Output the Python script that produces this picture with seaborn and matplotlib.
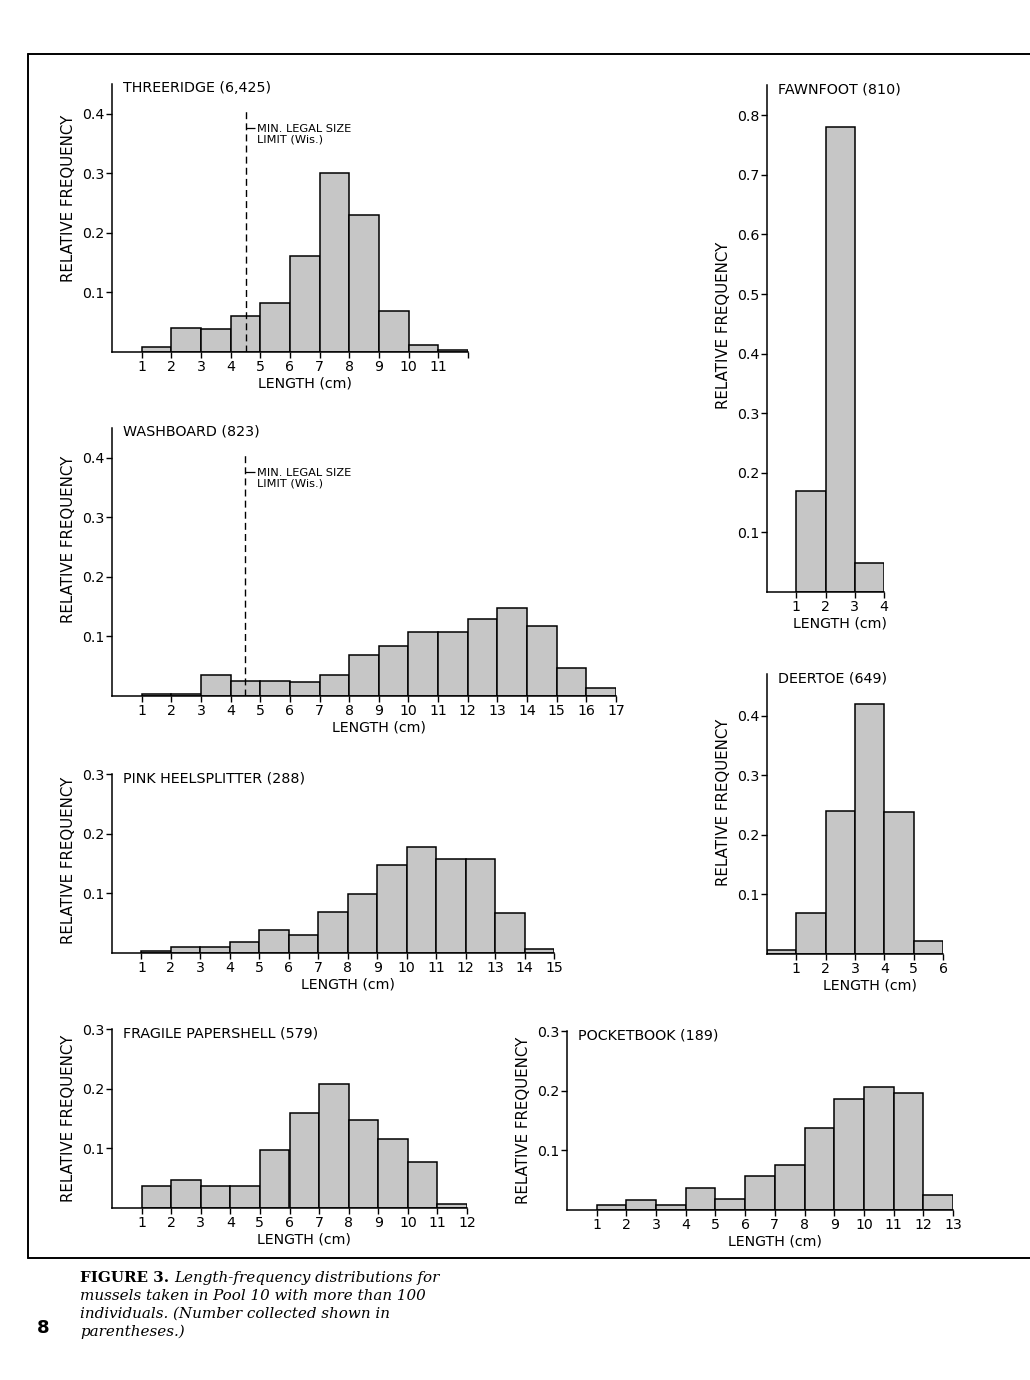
import pandas as pd
import matplotlib
matplotlib.use("Agg")
import matplotlib.pyplot as plt
import seaborn as sns
from matplotlib.lines import Line2D

# relative frequency per 1-cm length class
threeridge = [0.009, 0.040, 0.038, 0.061, 0.082, 0.161, 0.300, 0.230, 0.069, 0.011, 0.004]
washboard = [0.004, 0.004, 0.035, 0.026, 0.026, 0.0235, 0.036, 0.068, 0.084,
             0.108, 0.108, 0.129, 0.148, 0.118, 0.0475, 0.013]
pink_heelsplitter = [0.004, 0.0095, 0.0095, 0.0185, 0.038, 0.030, 0.068, 0.099,
                     0.148, 0.178, 0.158, 0.158, 0.067, 0.0073]
fawnfoot = [0.169, 0.781, 0.049]
deertoe = [0.0067, 0.069, 0.240, 0.419, 0.238, 0.022]
fragile_papershell = [0.0376, 0.047, 0.0365, 0.0365, 0.098, 0.160, 0.208, 0.148,
                      0.116, 0.078, 0.0067]
pocketbook = [0.0083, 0.017, 0.008, 0.037, 0.018, 0.057, 0.076, 0.137, 0.186,
              0.207, 0.196, 0.025]

# name, number collected, values, first length class, x max, y max, y ticks
panels = [
    ("THREERIDGE", "6,425", threeridge, 1, 12, 0.45, [0.1, 0.2, 0.3, 0.4]),
    ("WASHBOARD", "823", washboard, 1, 17, 0.45, [0.1, 0.2, 0.3, 0.4]),
    ("PINK HEELSPLITTER", "288", pink_heelsplitter, 1, 15, 0.30, [0.1, 0.2, 0.3]),
    ("FAWNFOOT", "810", fawnfoot, 1, 4, 0.85, [0.1, 0.2, 0.3, 0.4, 0.5, 0.6, 0.7, 0.8]),
    ("DEERTOE", "649", deertoe, 0, 6, 0.47, [0.1, 0.2, 0.3, 0.4]),
    ("FRAGILE PAPERSHELL", "579", fragile_papershell, 1, 12, 0.30, [0.1, 0.2, 0.3]),
    ("POCKETBOOK", "189", pocketbook, 1, 13, 0.30, [0.1, 0.2, 0.3]),
]
legal_limit = 4.5  # Wisconsin min. legal size, shown on threeridge + washboard
show_limit = {"THREERIDGE", "WASHBOARD"}

# axes placement in pixels: left, right, baseline; plus y-label centre (data units)
layout = {
    "THREERIDGE": (112, 468, 352, 0.258),
    "WASHBOARD": (112, 616, 696, 0.262),
    "PINK HEELSPLITTER": (112, 554, 953, 0.156),
    "FAWNFOOT": (767, 884, 592, 0.448),
    "DEERTOE": (767, 943, 954, 0.255),
    "FRAGILE PAPERSHELL": (112, 467, 1208, 0.150),
    "POCKETBOOK": (567, 953, 1210, 0.150),
}
PX_PER_UNIT_Y = 596  # 0.1 rel. freq = 59.6 px in every panel

W, H = 1030, 1380
FILL = "#c6c6c6"
FS = 10.2

sns.set_style("ticks")
plt.rcParams["font.family"] = ["DejaVu Sans"]
plt.rcParams["text.color"] = "black"
plt.rcParams["axes.labelcolor"] = "black"
plt.rcParams["axes.edgecolor"] = "black"
plt.rcParams["axes.linewidth"] = 1.1
plt.rcParams["xtick.major.width"] = 1.0
plt.rcParams["ytick.major.width"] = 1.0

fig = plt.figure(figsize=(W / 100, H / 100), dpi=100)
fig.patch.set_facecolor("white")

for name, count, values, start, xmax, ymax, yticks in panels:
    left, right, base, ylab_mid = layout[name]
    top = base - ymax * PX_PER_UNIT_Y
    ax = fig.add_axes([left / W, 1 - base / H, (right - left) / W, (base - top) / H])
    edges = list(range(start, start + len(values) + 1))
    df = pd.DataFrame({"length": [e + 0.5 for e in edges[:-1]], "freq": values})
    sns.histplot(data=df, x="length", weights="freq", bins=edges, ax=ax,
                 color=FILL, edgecolor="black", linewidth=1.1, alpha=1)
    ax.set_xlim(0, xmax)
    ax.set_ylim(0, ymax)
    sns.despine(ax=ax)
    ax.set_xticks(range(1, xmax + 1))
    labels = [str(i) for i in range(1, xmax + 1)]
    if name == "THREERIDGE":
        labels[-1] = ""
    ax.set_xticklabels(labels)
    ax.set_yticks(yticks)
    ax.set_yticklabels([f"{t:.1f}" for t in yticks])
    ax.tick_params(axis="both", direction="out", length=4, pad=1.5,
                   labelsize=FS, colors="black")
    ax.set_ylabel("RELATIVE FREQUENCY", fontsize=10.8, labelpad=4)
    ax.yaxis.label.set_y(ylab_mid / ymax)
    ax.set_xlabel("LENGTH (cm)", fontsize=FS, labelpad=2)
    ax.xaxis.label.set_x((1 + xmax) / 2 / xmax)
    ax.annotate(f"{name} ({count})", xy=(0, 1), xycoords="axes fraction",
                xytext=(8, -3), textcoords="offset points",
                ha="left", va="center", fontsize=10.3)
    if name in show_limit:
        ax.vlines(legal_limit, 0, 0.405, colors="black", linestyles=(0, (5, 3)),
                  linewidth=1.0)
        ax.hlines(0.375, legal_limit, legal_limit + 0.33, colors="black", linewidth=0.9)
        ax.text(legal_limit + 0.38, 0.365, "MIN. LEGAL SIZE\nLIMIT (Wis.)",
                ha="left", va="center", fontsize=8.2, linespacing=1.0)

# page frame
frame = dict(color="black", linewidth=1.4, transform=fig.transFigure)
fig.add_artist(Line2D([28 / W, 1.0], [1 - 54 / H, 1 - 54 / H], **frame))
fig.add_artist(Line2D([28 / W, 28 / W], [1 - 54 / H, 1 - 1258 / H], **frame))
fig.add_artist(Line2D([28 / W, 1.0], [1 - 1258 / H, 1 - 1258 / H], **frame))

# caption
cap_font = ["DejaVu Serif"]
fs = 10.9
bold = fig.text(80 / W, 1 - 1278 / H, "FIGURE 3.", fontsize=fs, weight="bold",
                family=cap_font, va="center", ha="left")
renderer = fig.canvas.get_renderer()
bb = bold.get_window_extent(renderer)
fig.text((bb.x1 + 5) / W, 1 - 1278 / H, "Length-frequency distributions for",
         fontsize=fs, style="italic", family=cap_font, va="center", ha="left")
rest = ["mussels taken in Pool 10 with more than 100",
        "individuals. (Number collected shown in",
        "parentheses.)"]
for i, line in enumerate(rest):
    fig.text(80 / W, 1 - (1296 + 17.7 * i) / H, line, fontsize=fs,
             style="italic", family=cap_font, va="center", ha="left")
fig.text(43 / W, 1 - 1328 / H, "8", fontsize=13, weight="bold",
         family=["DejaVu Sans"], va="center", ha="center")

fig.savefig("out.png", dpi=100, facecolor="white")
